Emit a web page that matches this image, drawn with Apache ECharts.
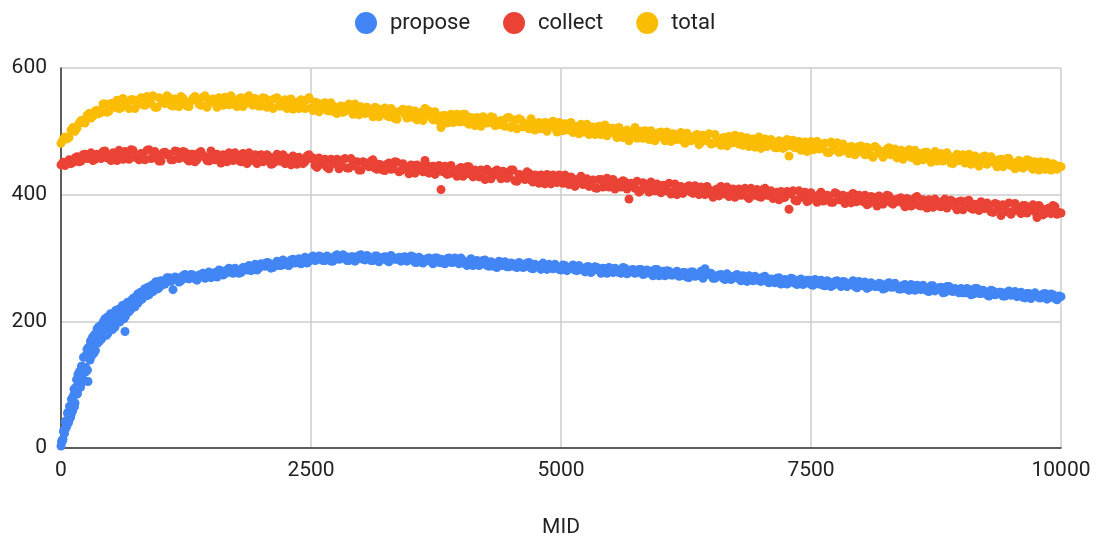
<!DOCTYPE html>
<html>
<head>
<meta charset="utf-8">
<script src="https://cdn.jsdelivr.net/npm/echarts@6/dist/echarts.min.js"></script>
<style>html,body{margin:0;padding:0;background:#fff}#c{width:1099px;height:542px}</style>
</head>
<body>
<div id="c"></div>
<script>
// MID sampling: series A at 0,40,80,... ; series B at 20,60,100,...
const MID_STEP = 40;
const B_OFFSET = 20;
// propose: dense (every 10, two offsets) up to 990, then every 40 from 1000
const PROPOSE_EARLY_STEP = 10;
const PROPOSE_EARLY_B_OFFSET = 5;
const PROPOSE_MAIN_START = 1000;

const total = [
481,491,490,506,505,517,513,528,524,533,
530,543,532,543,549,537,544,536,550,543,
553,541,549,556,538,551,544,553,540,548,
555,543,539,552,549,541,556,545,551,538,
550,554,542,547,539,553,544,556,541,549,
540,552,547,536,553,540,550,541,535,546,
550,536,553,533,545,538,545,532,540,528,
540,532,543,527,535,539,528,534,523,536,
528,537,523,532,519,532,527,534,522,518,
530,536,532,518,524,506,525,522,514,527,
515,527,511,520,522,508,519,514,522,510,
517,508,522,510,504,518,512,504,514,510,
504,514,507,516,499,509,512,502,498,508,
511,501,495,507,503,495,510,498,505,490,
501,493,485,496,489,500,501,487,497,490,
499,485,493,496,487,498,481,491,487,495,
483,491,496,481,486,478,490,492,482,485,
492,480,476,488,484,473,488,480,484,474,
484,475,461,486,476,470,483,478,471,484,
473,481,466,476,482,468,472,465,475,470,
477,463,472,459,473,468,463,474,464,458,
470,462,471,458,453,465,467,458,461,453,
465,455,460,449,464,456,450,464,452,458,
449,461,451,455,444,456,447,457,450,443,
452,445,454,440,448,452,440,444,449,440,444
];
const totalB = [
487,488,502,500,513,514,525,521,532,528,
543,530,544,538,536,552,542,550,536,549,
542,555,544,538,553,546,556,541,551,539,
552,540,548,555,543,554,538,550,545,553,
541,549,556,542,551,539,554,544,552,540,
553,538,549,552,540,546,536,551,543,536,
545,550,537,546,531,544,533,545,530,538,
530,540,533,543,526,536,538,528,538,523,
535,525,536,520,531,535,521,527,532,523,
517,528,522,531,516,525,513,527,522,515,
527,514,522,509,519,523,513,523,509,515,
510,521,506,518,520,507,509,520,502,514,
512,500,514,505,514,501,508,514,501,496,
499,511,505,495,508,504,493,505,496,506,
490,502,495,506,491,489,498,501,485,498,
490,499,484,493,496,485,497,485,493,479,
494,485,480,495,481,490,477,487,494,480,
478,490,486,475,491,481,476,487,474,485,
473,487,477,474,484,480,468,484,479,472,
480,467,483,471,467,480,474,476,463,476,
466,475,462,476,466,459,472,463,472,468,
456,468,459,470,464,455,467,451,468,460,
453,466,450,460,454,463,458,448,461,445,
460,448,460,450,455,444,457,446,441,454,
442,455,443,452,439,443,451,439,447,445
];

const collect = [
447,446,455,451,460,453,464,458,454,464,
457,469,460,466,454,463,468,456,470,459,
465,455,471,458,463,453,467,464,455,468,
459,467,453,464,455,468,459,453,462,464,
450,461,466,454,463,452,458,466,454,449,
463,454,460,449,464,453,449,457,461,448,
455,452,463,458,443,453,456,441,449,456,
445,457,442,449,452,439,450,444,455,440,
447,438,450,441,451,438,444,433,446,447,
444,454,434,445,436,408,445,433,439,429,
443,432,444,428,435,439,424,436,430,439,
425,435,429,439,421,431,424,434,420,430,
431,417,427,431,419,422,431,416,425,418,
429,418,413,423,410,424,419,412,424,412,
412,420,393,416,421,407,416,404,412,417,
403,413,418,405,400,413,407,414,402,409,
412,400,408,396,409,413,401,397,409,403,
399,410,394,405,408,396,410,399,394,404,
405,396,377,406,390,400,404,391,398,388,
404,391,398,388,401,392,386,398,402,389,
395,399,386,396,382,396,389,398,385,389,
395,381,392,384,397,382,388,392,380,388,
381,393,383,389,376,390,381,391,377,383,
389,378,383,372,385,367,383,387,374,379,
370,383,375,384,364,379,370,379,383,369,371
];
const collectB = [
451,451,449,458,452,463,457,466,456,463,
468,458,454,465,470,456,464,471,459,455,
460,470,457,468,453,466,463,455,469,457,
468,456,464,452,466,462,454,469,455,458,
463,452,456,466,454,465,449,460,463,462,
452,463,448,459,453,463,458,447,451,459,
449,461,457,446,458,448,443,456,454,441,
455,442,457,445,439,452,448,453,442,448,
439,448,440,452,436,449,440,447,434,442,
436,446,443,432,446,436,432,446,433,441,
429,444,432,439,428,436,440,425,437,430,
437,426,439,422,432,426,436,423,431,418,
422,432,417,426,431,418,421,428,413,425,
416,425,421,411,424,412,426,414,409,419,
422,409,418,410,404,419,413,420,406,409,
415,406,401,417,411,402,412,404,414,400,
403,413,401,407,398,409,412,400,396,409,
406,397,410,399,397,408,399,406,402,392,
395,405,401,391,406,396,389,403,394,400,
390,399,388,403,392,399,396,387,389,399,
389,384,397,390,398,385,399,387,392,394,
386,394,382,395,383,392,379,389,393,382,
390,379,391,382,389,376,390,379,385,375,
379,387,373,386,378,384,373,369,386,374,
383,371,380,373,383,368,377,370,381,372
];

const proposeEarly = [
3,12,14,28,29,43,36,56,44,60,
52,78,68,93,71,96,85,116,100,119,
101,129,126,107,145,127,156,105,153,139,
168,149,165,150,179,168,188,166,185,175,
194,174,193,183,204,183,196,181,205,201,
189,211,197,210,191,210,217,201,212,200,
221,207,218,204,184,227,216,228,215,230,
220,234,226,235,223,237,235,229,243,235,
245,235,245,241,251,241,248,254,242,252,
248,257,247,258,253,262,251,258,262,255
];
const proposeEarlyB = [
9,11,26,23,41,33,55,40,66,48,
77,58,83,65,92,108,86,106,121,96,
129,105,143,123,120,146,123,159,153,169,
145,175,155,179,154,179,166,191,169,191,
172,196,200,179,197,178,207,200,189,212,
206,187,212,199,217,198,206,219,199,219,
205,225,210,224,208,225,230,216,228,218,
232,224,237,223,236,228,243,239,233,246,
235,246,240,251,240,249,241,254,253,247,
256,248,256,252,262,252,262,252,262,262
];

const proposeMain = [
264,259,269,250,269,264,274,267,273,265,
273,268,278,273,270,280,275,284,276,281,
277,285,288,282,281,291,287,292,285,295,
288,294,288,298,295,291,301,295,303,297,
302,296,301,295,305,299,303,296,302,298,
305,297,301,296,303,297,302,294,301,298,
295,302,297,302,293,299,295,300,291,300,
298,291,300,293,297,300,291,294,288,296,
290,297,287,292,285,293,294,286,291,285,
291,286,293,283,288,282,288,290,283,286,
281,288,283,289,280,285,278,286,280,285,
276,283,285,277,281,276,284,277,282,277,
282,275,279,272,282,275,272,279,273,279,
272,277,269,278,272,279,283,274,268,272,
274,266,272,268,274,264,269,272,264,269,
263,271,261,266,268,259,266,261,267,258,
267,260,265,257,262,265,256,262,257,264,
255,262,258,264,253,260,262,254,258,255,
259,252,261,254,256,251,258,249,256,257,
250,254,247,256,250,254,246,255,247,250,
252,245,250,243,252,244,247,240,248,243,
246,240,248,242,239,246,237,244,239,242,
237,244,237,242,234,239
];
const proposeMainB = [
258,269,263,270,262,272,268,274,267,273,
276,270,269,277,281,273,281,277,284,276,
285,281,280,290,284,290,293,284,291,288,
297,289,297,292,299,293,292,301,296,303,
296,303,295,303,298,305,296,302,295,304,
298,304,296,303,294,301,296,304,298,301,
301,295,303,293,301,292,299,294,300,293,
292,299,293,300,291,296,288,299,291,288,
296,288,294,286,295,288,286,292,286,293,
285,292,284,290,285,292,282,285,290,282,
289,280,286,281,288,281,286,277,286,280,
284,276,282,284,277,285,275,281,276,282,
274,281,275,282,272,279,280,273,277,271,
277,270,278,271,275,268,275,276,268,273,
268,275,266,272,267,272,263,270,271,264,
270,263,267,261,269,262,259,268,260,265,
258,265,258,266,259,257,264,255,263,258,
263,255,261,255,263,256,252,261,255,260,
251,259,254,260,251,257,251,258,249,255,
257,248,256,248,253,245,255,248,252,245,
245,252,242,252,244,249,242,249,242,246,
240,246,241,247,244,238,244,236,245,237,
243,235,243,236,240
];

const xTicks = [0, 2500, 5000, 7500, 10000];
const yTicks = [0, 200, 400, 600];
const seriesNames = ['propose', 'collect', 'total'];
const colors = ['#4285F4', '#EA4335', '#FBBC04'];

const toPairs = (arr, start, step) => arr.map((v, i) => [start + i * step, v]);
const proposeData = toPairs(proposeEarly, 0, PROPOSE_EARLY_STEP)
  .concat(toPairs(proposeEarlyB, PROPOSE_EARLY_B_OFFSET, PROPOSE_EARLY_STEP))
  .concat(toPairs(proposeMain, PROPOSE_MAIN_START, MID_STEP))
  .concat(toPairs(proposeMainB, PROPOSE_MAIN_START + B_OFFSET, MID_STEP));
const collectData = toPairs(collect, 0, MID_STEP).concat(toPairs(collectB, B_OFFSET, MID_STEP));
const totalData = toPairs(total, 0, MID_STEP).concat(toPairs(totalB, B_OFFSET, MID_STEP));

const FONT = 'Roboto, Arial, sans-serif';
const chart = echarts.init(document.getElementById('c'), null, {renderer: 'canvas'});
chart.setOption({
  animation: false,
  backgroundColor: '#ffffff',
  color: colors,
  textStyle: {fontFamily: FONT},
  legend: {
    left: 350, top: 7,
    icon: 'circle',
    itemWidth: 38, itemHeight: 22, itemGap: 33,
    textStyle: {fontSize: 22, color: '#222', fontFamily: FONT},
    data: seriesNames
  },
  grid: {left: 61, right: 38, top: 68, bottom: 94, containLabel: false, outerBoundsMode: 'none'},
  xAxis: {
    type: 'value', min: xTicks[0], max: xTicks[xTicks.length - 1], interval: 2500,
    name: 'MID', nameLocation: 'middle', nameGap: 69,
    nameTextStyle: {fontSize: 21, color: '#222', fontFamily: FONT},
    axisLine: {show: true, lineStyle: {color: '#333', width: 1.5}},
    axisTick: {show: false},
    axisLabel: {fontSize: 21, color: '#222', margin: 12, fontFamily: FONT, formatter: v => String(v)},
    splitLine: {show: true, lineStyle: {color: '#cccccc', width: 1.5}}
  },
  yAxis: {
    type: 'value', min: yTicks[0], max: yTicks[yTicks.length - 1], interval: 200,
    axisLine: {show: true, lineStyle: {color: '#333', width: 1.5}},
    axisTick: {show: false},
    axisLabel: {fontSize: 21, color: '#222', margin: 14, fontFamily: FONT, formatter: v => String(v)},
    splitLine: {show: true, lineStyle: {color: '#cccccc', width: 1.5}}
  },
  series: [
    {name: seriesNames[0], type: 'scatter', data: proposeData, symbolSize: 9, itemStyle: {color: colors[0], opacity: 1}},
    {name: seriesNames[1], type: 'scatter', data: collectData, symbolSize: 9, itemStyle: {color: colors[1], opacity: 1}},
    {name: seriesNames[2], type: 'scatter', data: totalData, symbolSize: 9, itemStyle: {color: colors[2], opacity: 1}}
  ]
});
</script>
</body>
</html>
